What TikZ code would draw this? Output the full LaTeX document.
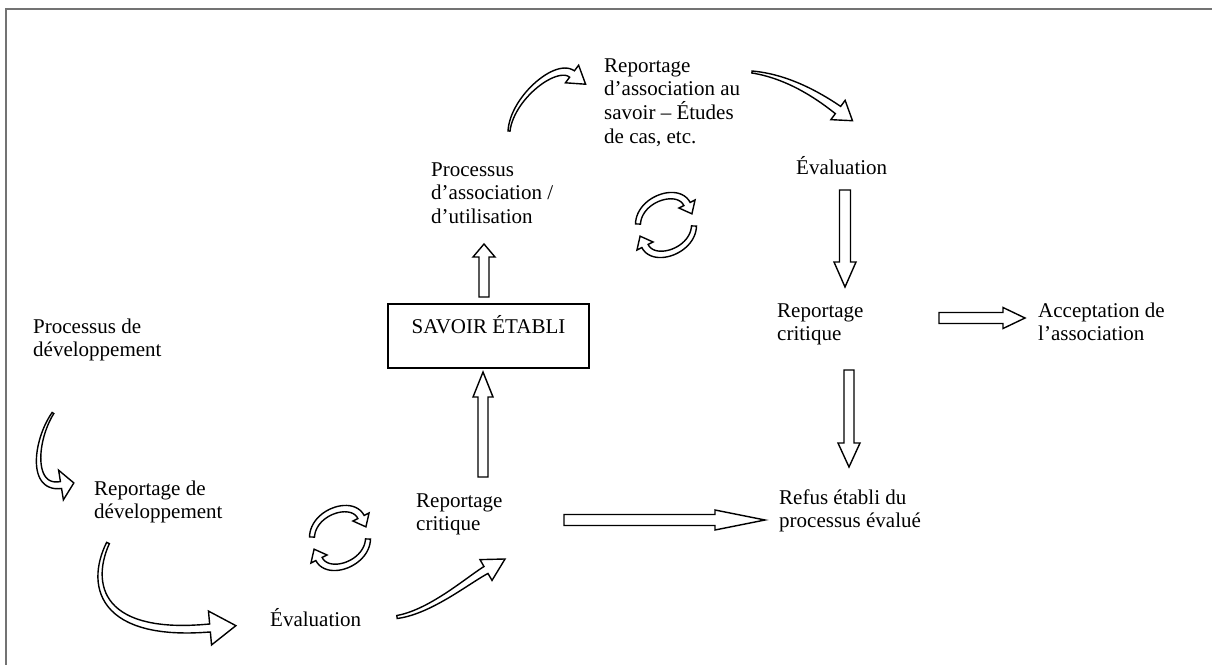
\documentclass[tikz,border=0pt]{standalone}
\usepackage{fontspec}
\setmainfont{Liberation Serif}
\usetikzlibrary{calc}

% Tapered hollow arrow along a cubic Bezier:
% #1..#4 points (start, control, control, head base), #5 tail width,
% #6 width at head, #7 half width of head, #8 head length
\newdimen\haX \newdimen\haY
\newcommand\haget[3]{%
  \pgfextractx{\haX}{\pgfpointanchor{#1}{center}}%
  \pgfextracty{\haY}{\pgfpointanchor{#1}{center}}%
  \pgfmathsetmacro#2{\the\haX}%
  \pgfmathsetmacro#3{\the\haY}}
\newcommand\hollowarrow[8]{%
  \path #1 coordinate (haA) #2 coordinate (haB) #3 coordinate (haC) #4 coordinate (haD);
  \haget{haA}{\haxa}{\haya}\haget{haB}{\haxb}{\hayb}%
  \haget{haC}{\haxc}{\hayc}\haget{haD}{\haxd}{\hayd}%
  \gdef\haleft{}\gdef\haright{}%
  \foreach \hai in {0,...,30}{%
    \pgfmathsetmacro\haT{\hai/30}%
    \pgfmathsetmacro\haS{1-\haT}%
    \pgfmathsetmacro\hapx{\haS*\haS*\haS*(\haxa)+3*\haS*\haS*\haT*(\haxb)+3*\haS*\haT*\haT*(\haxc)+\haT*\haT*\haT*(\haxd)}%
    \pgfmathsetmacro\hapy{\haS*\haS*\haS*(\haya)+3*\haS*\haS*\haT*(\hayb)+3*\haS*\haT*\haT*(\hayc)+\haT*\haT*\haT*(\hayd)}%
    \pgfmathsetmacro\hadx{\haS*\haS*((\haxb)-(\haxa))+2*\haS*\haT*((\haxc)-(\haxb))+\haT*\haT*((\haxd)-(\haxc))}%
    \pgfmathsetmacro\hady{\haS*\haS*((\hayb)-(\haya))+2*\haS*\haT*((\hayc)-(\hayb))+\haT*\haT*((\hayd)-(\hayc))}%
    \pgfmathsetmacro\hadl{veclen(\hadx,\hady)}%
    \pgfmathsetmacro\hahw{(#5+(#6-#5)*\haT)/2}%
    \pgfmathsetmacro\halx{\hapx-(\hady)/\hadl*\hahw}%
    \pgfmathsetmacro\haly{\hapy+(\hadx)/\hadl*\hahw}%
    \pgfmathsetmacro\harx{\hapx+(\hady)/\hadl*\hahw}%
    \pgfmathsetmacro\hary{\hapy-(\hadx)/\hadl*\hahw}%
    \xdef\haleft{\haleft(\halx pt,\haly pt)--}%
    \xdef\haright{--(\harx pt,\hary pt)\haright}%
  }%
  \pgfmathsetmacro\hadl{veclen((\haxd)-(\haxc),(\hayd)-(\hayc))}%
  \pgfmathsetmacro\haux{((\haxd)-(\haxc))/\hadl}%
  \pgfmathsetmacro\hauy{((\hayd)-(\hayc))/\hadl}%
  \pgfmathsetmacro\hablx{\haxd-(\hauy)*#7}\pgfmathsetmacro\hably{\hayd+(\haux)*#7}%
  \pgfmathsetmacro\habrx{\haxd+(\hauy)*#7}\pgfmathsetmacro\habry{\hayd-(\haux)*#7}%
  \pgfmathsetmacro\hatx{\haxd+(\haux)*#8}\pgfmathsetmacro\haty{\hayd+(\hauy)*#8}%
  \edef\hacmd{\noexpand\draw[arrowbody] \haleft(\hablx pt,\hably pt)--(\hatx pt,\haty pt)--(\habrx pt,\habry pt)\haright--cycle;}%
  \hacmd}
% straight block arrow from #1 to head base #2
\newcommand\blockarrow[5]{%
  \hollowarrow{(#1)}{($(#1)!1/3!(#2)$)}{($(#1)!2/3!(#2)$)}{(#2)}{#3}{#3}{#4}{#5}}

\tikzset{
  arrowbody/.style={draw=black, fill=white, line width=1.4pt, line join=miter},
  lbl/.style={font=\fontsize{21}{23.7}\selectfont, align=left, inner sep=0pt, anchor=north west},
  framerule/.style={line width=2pt, black!55},
}

\begin{document}
\begin{tikzpicture}[x=1pt, y=-1pt]
\useasboundingbox (0,0) rectangle (1212,665);

% frame edges
\draw[framerule] (5,9) -- (1212,9);
\draw[framerule] (6,8) -- (6,665);

% labels
\node[lbl] (rassoc) at (604,55.4) {\strut Reportage\\d’association au\\savoir – Études\\de cas, etc.};
\node[lbl] (evalhaut) at (796,156.4) {\strut Évaluation};
\node[lbl] (procassoc) at (431,159.4) {\strut Processus\\d’association /\\d’utilisation};
\node[draw, line width=1.2pt, inner sep=0pt, minimum width=201pt, minimum height=64pt,
      text height=15pt, text depth=21pt, font=\fontsize{21}{23.7}\selectfont]
      (savoir) at (488.5,336) {SAVOIR ÉTABLI};
\node[lbl] (procdev) at (33,316.4) {\strut Processus de\\développement};
\node[lbl] (critdroite) at (777,300.4) {\strut Reportage\\critique};
\node[lbl] (accept) at (1038,300.4) {\strut Acceptation de\\l’association};
\node[lbl] (repdev) at (94,478.4) {\strut Reportage de\\développement};
\node[lbl] (critbas) at (416,490.4) {\strut Reportage\\critique};
\node[lbl] (refus) at (779,487.4) {\strut Refus établi du\\processus évalué};
\node[lbl] (evalbas) at (270,608.4) {\strut Évaluation};

% connector end points
\coordinate (a0) at (484,297);  \coordinate (a1) at (484,257);
\coordinate (b0) at (483,477);  \coordinate (b1) at (483,397);
\coordinate (c0) at (564,520);  \coordinate (c1) at (715,520);
\coordinate (d0) at (939,318);  \coordinate (d1) at (1003,318);
\coordinate (e0) at (845,190);  \coordinate (e1) at (845,262);
\coordinate (f0) at (849,370);  \coordinate (f1) at (849,443);
\coordinate (g0) at (509,131);  \coordinate (g1) at (572,74);
\coordinate (h0) at (752,72);   \coordinate (h1) at (838,110);
\coordinate (k0) at (53,413);   \coordinate (k1) at (61,485);
\coordinate (l0) at (108,543);  \coordinate (l1) at (210,628);
\coordinate (m0) at (397,617);  \coordinate (m1) at (486,570);

% straight block arrows
\blockarrow{a0}{a1}{10}{11}{13}
\blockarrow{b0}{b1}{10}{10}{25}
\blockarrow{c0}{c1}{11}{10}{50}
\blockarrow{d0}{d1}{11}{10.5}{22}
\blockarrow{e0}{e1}{11}{11}{25}
\blockarrow{f0}{f1}{10}{11}{24}

% curved arrows
\hollowarrow{(g0)}{(512,98)}{(556,62)}{(g1)}{2}{8}{11}{17}
\hollowarrow{(h0)}{(785,76)}{(815,93)}{(h1)}{2}{9}{12}{18}
\hollowarrow{(k0)}{(35,440)}{(30,490)}{(k1)}{2}{7}{15}{13}
\hollowarrow{(l0)}{(88,585)}{(100,638)}{(l1)}{3}{8}{17}{26}
\hollowarrow{(m0)}{(430,612)}{(467,581)}{(m1)}{3}{8}{12}{22}

% circular pairs
\hollowarrow{(312,537)}{(313,512)}{(352,499)}{(361,517)}{5}{7}{9}{11}
\hollowarrow{(368,539)}{(367,564)}{(328,577)}{(319,559)}{5}{7}{9}{11}
\hollowarrow{(638,224)}{(639,199)}{(678,186)}{(687,204)}{5}{7}{9}{11}
\hollowarrow{(694,226)}{(693,251)}{(654,264)}{(645,246)}{5}{7}{9}{11}
\end{tikzpicture}
\end{document}
